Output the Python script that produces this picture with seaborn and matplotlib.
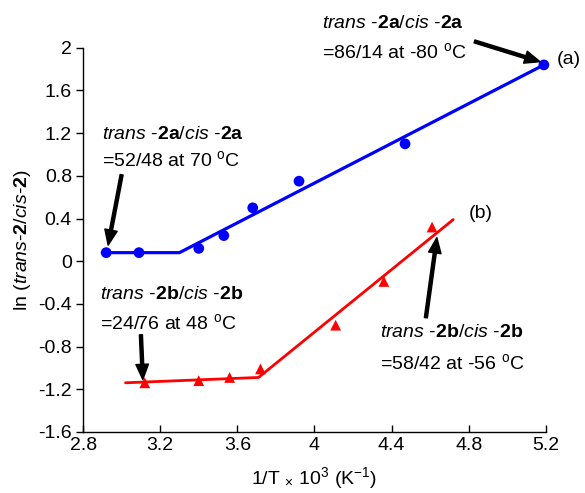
import numpy as np
import pandas as pd
import seaborn as sns
import matplotlib
matplotlib.use("Agg")
import matplotlib.pyplot as plt

# measured points, 1/T x 10^3 vs ln(trans/cis)
a_x = [2.92, 3.09, 3.40, 3.53, 3.68, 3.92, 4.47, 5.19]
a_y = [0.08, 0.08, 0.12, 0.24, 0.50, 0.75, 1.10, 1.84]
b_x = [3.12, 3.40, 3.56, 3.72, 4.11, 4.36, 4.61]
b_y = [-1.14, -1.12, -1.09, -1.01, -0.60, -0.19, 0.32]

# fitted segments
a_fit_x = [2.90, 3.30, 5.19]
a_fit_y = [0.08, 0.08, 1.84]
b_fit_x = [3.02, 3.71, 4.72]
b_fit_y = [-1.14, -1.09, 0.39]

x_ticks = [2.8, 3.2, 3.6, 4.0, 4.4, 4.8, 5.2]
y_ticks = [-1.6, -1.2, -0.8, -0.4, 0, 0.4, 0.8, 1.2, 1.6, 2]

sns.set_theme(style="ticks")
plt.rcParams["font.family"] = ["Liberation Sans", "DejaVu Sans"]
plt.rcParams["mathtext.fontset"] = "custom"
plt.rcParams["mathtext.rm"] = "Liberation Sans"
plt.rcParams["mathtext.it"] = "Liberation Sans:italic"
plt.rcParams["mathtext.bf"] = "Liberation Sans:bold"
plt.rcParams["axes.unicode_minus"] = False
plt.rcParams["text.color"] = "black"
plt.rcParams["axes.labelcolor"] = "black"

fig = plt.figure(figsize=(5.85, 4.93), dpi=100)
ax = fig.add_axes([0.142, 0.124, 0.791, 0.779])

pts_a = pd.DataFrame({"x": a_x, "y": a_y})
pts_b = pd.DataFrame({"x": b_x, "y": b_y})
fit_a = pd.DataFrame({"x": a_fit_x, "y": a_fit_y})
fit_b = pd.DataFrame({"x": b_fit_x, "y": b_fit_y})

sns.lineplot(data=fit_a, x="x", y="y", color="#0000ff", lw=2.3, sort=False, ax=ax)
sns.lineplot(data=fit_b, x="x", y="y", color="#ff0000", lw=2.0, sort=False, ax=ax)
sns.scatterplot(data=pts_a, x="x", y="y", color="#0000ff", marker="o", s=60,
                edgecolor="none", ax=ax, zorder=3, clip_on=False)
sns.scatterplot(data=pts_b, x="x", y="y", color="#ff0000", marker="^", s=60,
                edgecolor="none", ax=ax, zorder=3)

ax.set_xlim(2.8, 5.2)
ax.set_ylim(-1.6, 2)
ax.set_xticks(x_ticks)
ax.set_yticks(y_ticks)
ax.set_xticklabels(["%g" % t for t in x_ticks])
ax.set_yticklabels(["%g" % t for t in y_ticks])
sns.despine(ax=ax)
for s in ["left", "bottom"]:
    ax.spines[s].set_color("black")
    ax.spines[s].set_linewidth(1.0)
ax.tick_params(axis="x", direction="in", length=5, width=1, labelsize=14, pad=4, colors="black")
ax.tick_params(axis="y", direction="out", length=5, width=1, labelsize=14, pad=3, colors="black")

ax.set_xlabel(r"1/T $_{\times}$ 10$^{3}$ (K$^{-1}$)", fontsize=14, labelpad=8)
ax.set_ylabel(r"ln ($\mathit{trans}$-$\mathbf{2}$/$\mathit{cis}$-$\mathbf{2}$)", fontsize=14, labelpad=4)

fs = 14
arrow = dict(facecolor="black", edgecolor="black", width=2.2, headwidth=9, headlength=11, shrink=0)
lab_a = r"$\mathit{trans}$ -$\mathbf{2a}$/$\mathit{cis}$ -$\mathbf{2a}$"
lab_b = r"$\mathit{trans}$ -$\mathbf{2b}$/$\mathit{cis}$ -$\mathbf{2b}$"
deg = r"$^{\mathrm{o}}$C"

ax.text(2.90, 1.185, lab_a, fontsize=fs, va="center")
ax.text(2.90, 0.95, "=52/48 at 70 " + deg, fontsize=fs, va="center")
ax.annotate("", xy=(2.93, 0.15), xytext=(3.00, 0.81), arrowprops=arrow)

ax.text(4.04, 2.225, lab_a, fontsize=fs, va="center", clip_on=False)
ax.text(4.04, 1.96, "=86/14 at -80 " + deg, fontsize=fs, va="center", clip_on=False)
ax.annotate("", xy=(5.17, 1.87), xytext=(4.83, 2.06), arrowprops=arrow, annotation_clip=False)
ax.text(5.32, 1.89, "(a)", fontsize=fs, ha="center", va="center", clip_on=False)

ax.text(2.89, -0.315, lab_b, fontsize=fs, va="center")
ax.text(2.89, -0.577, "=24/76 at 48 " + deg, fontsize=fs, va="center")
ax.annotate("", xy=(3.11, -1.11), xytext=(3.10, -0.69), arrowprops=arrow)

ax.text(4.34, -0.67, lab_b, fontsize=fs, va="center")
ax.text(4.34, -0.95, "=58/42 at -56 " + deg, fontsize=fs, va="center")
ax.annotate("", xy=(4.635, 0.22), xytext=(4.578, -0.53), arrowprops=arrow)
ax.text(4.86, 0.45, "(b)", fontsize=fs, ha="center", va="center")

fig.savefig("out.png", dpi=100)
